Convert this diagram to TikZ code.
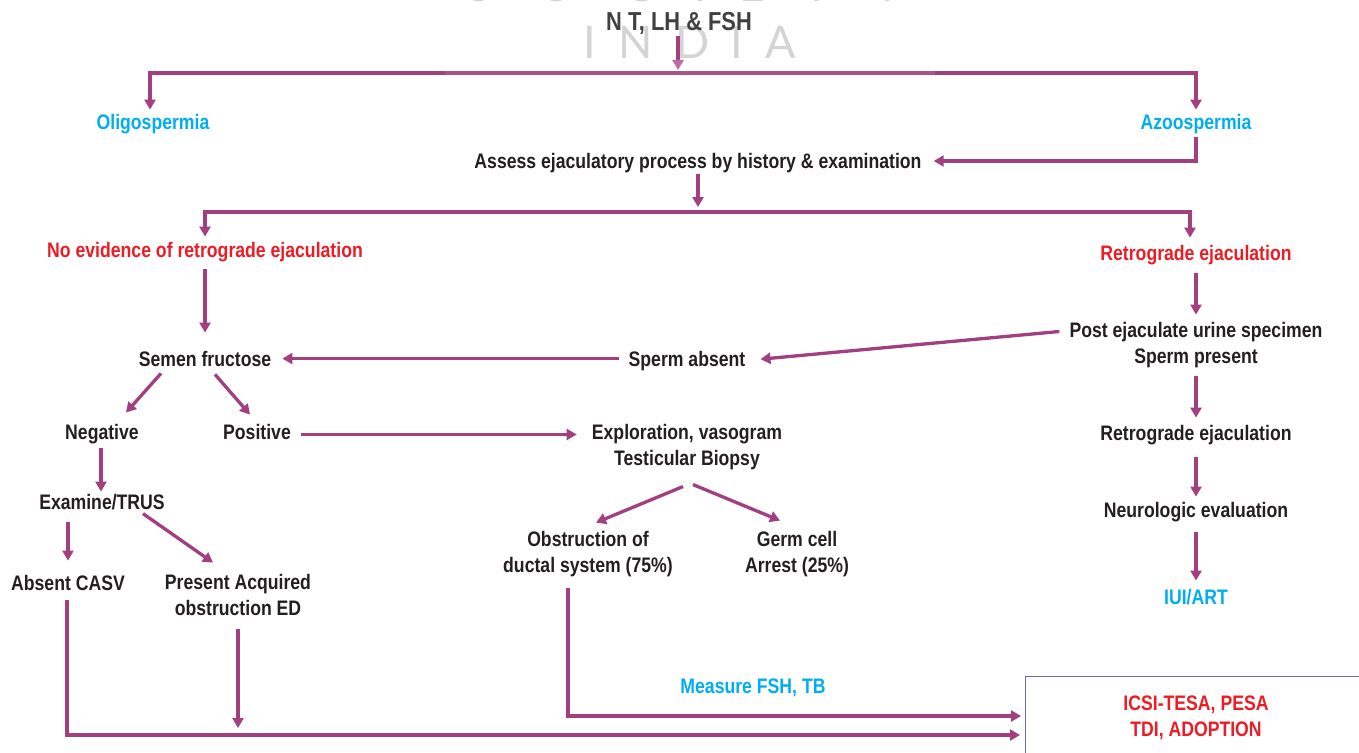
\documentclass[tikz,border=0pt]{standalone}
\usepackage{fontspec}
\setmainfont{Liberation Sans}[FakeStretch=0.84]
\newfontfamily\wmfont{Lato}
\usetikzlibrary{arrows.meta}
\definecolor{flowpurple}{HTML}{A23F80}
\definecolor{tipfade}{HTML}{BE6BA5}
\definecolor{bluetxt}{HTML}{00AEEF}
\definecolor{redtxt}{HTML}{ED1C24}
\definecolor{darktxt}{HTML}{231F20}
\definecolor{boxline}{HTML}{6A68B0}
\tikzset{
	x=1pt,y=-1pt,
	lbl/.style={font=\fontsize{21}{26}\selectfont\bfseries,text=darktxt,align=center,inner sep=0pt,anchor=base},
	bluelbl/.style={lbl,text=bluetxt},
	redlbl/.style={lbl,text=redtxt},
	wmark/.style={text=black!17,font=\wmfont\fontsize{45}{45}\selectfont,inner sep=0pt,anchor=base},
	flow/.style={draw=flowpurple,line width=3.3pt,-{Triangle[length=10pt,width=11pt]},shorten <=8pt,shorten >=6pt},
}
\begin{document}
\begin{tikzpicture}
	\useasboundingbox (0,0) rectangle (1359,752);
	% watermark
	\begin{scope}
		\clip (0,0) rectangle (1359,752);
		\node[wmark] (wms) at (480,2) {S};
		\node[wmark] (wmo) at (557,2) {O};
		\node[wmark] (wmc) at (640,2) {C};
		\node[wmark] (wmi) at (701,2) {I};
		\node[wmark] (wme) at (752,2) {E};
		\node[wmark] (wmt) at (817,2) {T};
		\node[wmark] (wmy) at (888,2) {Y};
	\end{scope}
	\node[wmark] (wmia) at (590,59) {I};
	\node[wmark] (wmn) at (636,59) {N};
	\node[wmark] (wmd) at (693,59) {D};
	\node[wmark] (wmib) at (737,59) {I};
	\node[wmark] (wma) at (781,59) {A};

	% nodes
	\node[lbl,text=black!75,font=\fontsize{26}{26}\selectfont\bfseries] (nt) at (679,31) {N T, LH \& FSH};
	\node[bluelbl] (oligo) at (153,129) {Oligospermia};
	\node[bluelbl] (azoo) at (1196,129) {Azoospermia};
	\node[lbl] (assess) at (698,168) {Assess ejaculatory process by history \& examination};
	\node[redlbl] (noretro) at (205,257) {No evidence of retrograde ejaculation};
	\node[redlbl] (retro) at (1196,260) {Retrograde ejaculation};
	\node[lbl] (fructose) at (205,366) {Semen fructose};
	\node[lbl] (absent) at (687,366) {Sperm absent};
	\node[lbl] (urine) at (1196,363) {Post ejaculate urine specimen\\Sperm present};
	\node[lbl] (negative) at (102,439) {Negative};
	\node[lbl] (positive) at (257,439) {Positive};
	\node[lbl] (explore) at (687,465) {Exploration, vasogram\\Testicular Biopsy};
	\node[lbl] (retrotwo) at (1196,440) {Retrograde ejaculation};
	\node[lbl] (examine) at (102,509) {Examine/TRUS};
	\node[lbl] (neuro) at (1196,517) {Neurologic evaluation};
	\node[lbl] (obstruct) at (588,572) {Obstruction of\\ductal system (75\%)};
	\node[lbl] (germ) at (797,572) {Germ cell\\Arrest (25\%)};
	\node[lbl] (casv) at (68,590) {Absent CASV};
	\node[lbl] (acquired) at (238,615) {Present Acquired\\obstruction ED};
	\node[bluelbl] (iui) at (1196,604) {IUI/ART};
	\node[bluelbl] (measure) at (753,693) {Measure FSH, TB};
	\node[redlbl] (icsi) at (1196,736) {ICSI-TESA, PESA\\TDI, ADOPTION};

	% free ends
	\coordinate (barmid) at (678,73);
	\coordinate (barleft) at (150,73);
	\coordinate (barright) at (1196,73);
	\coordinate (splitmid) at (698,212);
	\coordinate (splitleft) at (205,212);
	\coordinate (splitright) at (1190,212);
	\coordinate (azooturn) at (1196,161);
	\coordinate (ductturn) at (568,716);
	\coordinate (casvturn) at (67,735);
	\coordinate (acqdrop) at (238,735);
	\coordinate (boxa) at (1025,716);
	\coordinate (boxb) at (1025,735);

	% result box
	\draw[boxline,line width=1pt] (1025.5,762) -- (1025.5,676.5) -- (1370,676.5);

	% arrows
	\draw[flow,{Triangle[length=10pt,width=11pt]}-{Triangle[length=10pt,width=11pt]},shorten <=4pt,shorten >=4pt] (barleft |- oligo.north) -- (barleft) -- (barright) -- (azoo.north);
	\fill[white,opacity=.1] (445,71) rectangle (935,75);
	\draw[flow,-{Triangle[length=10pt,width=11pt,color=tipfade]},shorten <=1pt,shorten >=3pt] (nt.south -| barmid) -- (barmid);
	\draw[flow,shorten <=3pt,shorten >=12pt] (azoo.south -| azooturn) -- (azooturn) -- (assess.east |- azooturn);
	\draw[flow,shorten <=1pt,shorten >=5pt] (assess.south -| splitmid) -- (splitmid);
	\draw[flow,{Triangle[length=10pt,width=11pt]}-{Triangle[length=10pt,width=11pt]},shorten <=5pt,shorten >=7pt] (splitleft |- noretro.north) -- (splitleft) -- (splitright) -- (splitright |- retro.north);
	\draw[flow,shorten <=7pt,shorten >=18pt] (noretro.south) -- (fructose.north);
	\draw[flow,shorten >=7pt] (retro.south) -- (urine.north);
	\draw[flow,shorten <=10pt,shorten >=15pt] ([yshift=14pt]urine.west) -- (absent.east);
	\draw[flow,shorten <=9pt,shorten >=11pt] ([yshift=2pt]absent.west) -- ([yshift=2pt]absent.west -| fructose.east);
	\draw[flow,shorten <=0pt,shorten >=0pt] ([xshift=-44pt,yshift=-7pt]fructose.south) -- ([xshift=24pt,yshift=11pt]negative.north);
	\draw[flow,shorten <=0pt,shorten >=0pt] ([xshift=10pt,yshift=-8pt]fructose.south) -- ([xshift=-7pt,yshift=9pt]positive.north);
	\draw[flow,shorten <=10pt,shorten >=15pt] ([yshift=-3pt]positive.east) -- ([yshift=-3pt]explore.west |- positive.east);
	\draw[flow,shorten <=4pt,shorten >=2pt] ([xshift=-1pt]negative.south) -- ([xshift=-1pt]examine.north);
	\draw[flow,shorten <=12pt,shorten >=14pt] (casv.north |- examine.south) -- (casv.north);
	\draw[flow,shorten <=0pt,shorten >=0pt] ([xshift=41pt,yshift=-4pt]examine.south) -- ([xshift=-25pt,yshift=11pt]acquired.north);
	\draw[flow,shorten >=7pt] (urine.south) -- (retrotwo.north);
	\draw[flow,shorten <=12pt,shorten >=5pt] (retrotwo.south) -- (neuro.north);
	\draw[flow,shorten <=10pt,shorten >=8pt] (neuro.south) -- (iui.north);
	\draw[flow,shorten <=0pt,shorten >=0pt] ([xshift=-4pt,yshift=-17pt]explore.south) -- ([xshift=8pt,yshift=8pt]obstruct.north);
	\draw[flow,shorten <=0pt,shorten >=0pt] ([xshift=6pt,yshift=-15pt]explore.south) -- ([xshift=-17pt,yshift=10pt]germ.north);
	\draw[flow,shorten <=11pt,shorten >=4pt] (obstruct.south -| ductturn) -- (ductturn) -- (boxa);
	\draw[flow,shorten <=14pt,shorten >=7pt] (acquired.south) -- (acqdrop);
	\draw[flow,shorten <=10pt,shorten >=5pt] (casv.south -| casvturn) -- (casvturn) -- (boxb);
\end{tikzpicture}
\end{document}
